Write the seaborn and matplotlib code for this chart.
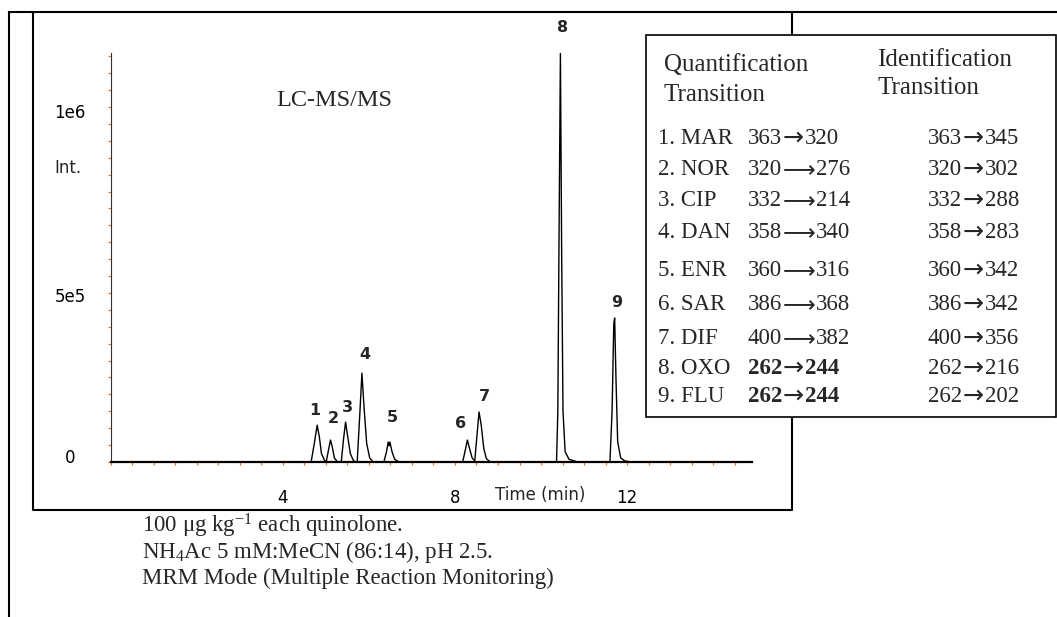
import numpy as np
import pandas as pd
import matplotlib
matplotlib.use("Agg")
import matplotlib.pyplot as plt
import seaborn as sns
from matplotlib.lines import Line2D
from matplotlib.patches import Rectangle
from matplotlib.ticker import MultipleLocator, FixedLocator
from matplotlib.transforms import ScaledTranslation

# ---------------- data ----------------
time_min = [0.00, 4.66, 4.74, 4.80, 4.85, 4.90, 4.97, 5.01,
            5.07, 5.11, 5.15, 5.20, 5.26, 5.31,
            5.36, 5.41, 5.46, 5.51, 5.57, 5.64, 5.69,
            5.73, 5.79, 5.84, 5.89, 5.95, 6.02, 6.10,
            6.35, 6.41, 6.45, 6.47, 6.49, 6.54, 6.60, 6.70,
            8.18, 8.24, 8.29, 8.34, 8.40, 8.46,
            8.52, 8.56, 8.61, 8.67, 8.73, 8.82,
            10.36, 10.39, 10.42, 10.45, 10.48, 10.51, 10.56, 10.65, 10.85,
            11.60, 11.65, 11.69, 11.71, 11.74, 11.78, 11.85, 11.95, 12.10,
            14.90]
intensity = [0, 0, 6.0e4, 1.09e5, 7.5e4, 2.5e4, 5e3, 0,
             4.0e4, 6.5e4, 4.5e4, 1.2e4, 2e3, 0,
             0, 6.5e4, 1.18e5, 7.5e4, 2.5e4, 5e3, 0,
             0, 1.4e5, 2.63e5, 1.6e5, 5.5e4, 1.2e4, 0,
             0, 3.0e4, 5.9e4, 4.8e4, 5.9e4, 3.0e4, 8e3, 0,
             0, 3.5e4, 6.5e4, 4.0e4, 1.2e4, 3e3,
             9.0e4, 1.48e5, 1.1e5, 4.0e4, 1.0e4, 0,
             0, 1.5e5, 7.0e5, 1.21e6, 6.0e5, 1.5e5, 3.0e4, 8e3, 0,
             0, 1.5e5, 4.1e5, 4.26e5, 2.5e5, 6e4, 1.2e4, 3e3, 0,
             0]

peak_labels = ["1", "2", "3", "4", "5", "6", "7", "8", "9"]
peak_rt = [4.80, 5.11, 5.46, 5.84, 6.47, 8.29, 8.56, 10.45, 11.71]
peak_height = [1.09e5, 6.5e4, 1.18e5, 2.63e5, 5.9e4, 6.5e4, 1.48e5, 1.21e6, 4.26e5]

y_tick_values = [0, 5e5, 1e6]
y_tick_labels = ["0", "5e5", "1e6"]
x_tick_values = [4, 8, 12]
x_tick_labels = ["4", "8", "12"]

analytes = ["1. MAR", "2. NOR", "3. CIP", "4. DAN", "5. ENR",
            "6. SAR", "7. DIF", "8. OXO", "9. FLU"]
quant_transition = ["363\u2192320", "320\u27f6276", "332\u27f6214", "358\u27f6340",
                    "360\u27f6316", "386\u27f6368", "400\u27f6382",
                    "262\u2192244", "262\u2192244"]
quant_bold = [False, False, False, False, False, False, False, True, True]
ident_transition = ["363\u2192345", "320\u2192302", "332\u2192288", "358\u2192283",
                    "360\u2192342", "386\u2192342", "400\u2192356",
                    "262\u2192216", "262\u2192202"]

notes = ["100 \u03bcg kg$^{-1}$ each quinolone.",
         "NH$_{4}$Ac 5 mM:MeCN (86:14), pH 2.5.",
         "MRM Mode (Multiple Reaction Monitoring)"]

# ---------------- figure ----------------
sns.set_theme(style="white")
plt.rcParams["font.family"] = ["DejaVu Sans"]
plt.rcParams["mathtext.default"] = "regular"

W, H = 1057, 617
fig = plt.figure(figsize=(W / 100, H / 100), dpi=100)
fig.patch.set_facecolor("white")


def fx(px):
    return px / W


def fy(py):
    return 1 - py / H


SERIF = ["Liberation Serif", "DejaVu Sans"]
ORANGE = "#f07020"

# frames
frame_kw = dict(color="black", lw=1.5, transform=fig.transFigure, solid_capstyle="projecting")
fig.add_artist(Line2D([fx(9), fx(9)], [fy(12), fy(617)], **frame_kw))
fig.add_artist(Line2D([fx(9), fx(1057)], [fy(12), fy(12)], **frame_kw))
fig.add_artist(Line2D([fx(33), fx(33), fx(792), fx(792)],
                      [fy(12), fy(510), fy(510), fy(12)], **frame_kw))

# main chromatogram axes
ax = fig.add_axes([fx(110.5), fy(462), fx(752) - fx(110.5), fy(53) - fy(462)])
ax.set_facecolor("none")
df = pd.DataFrame({"Time (min)": time_min, "Int.": intensity})
sns.lineplot(data=df, x="Time (min)", y="Int.", color="black", lw=1.0, ax=ax)
ax.set_xlim(0, 14.9)
ax.set_ylim(0, 1.21e6)

for s in ["top", "right"]:
    ax.spines[s].set_visible(False)
ax.spines["left"].set_linewidth(0.8)
ax.spines["left"].set_color("#333333")
ax.spines["bottom"].set_linewidth(1.6)
ax.spines["bottom"].set_color("black")

ax.yaxis.set_major_locator(FixedLocator(y_tick_values))
ax.set_yticklabels(y_tick_labels)
ax.yaxis.set_minor_locator(MultipleLocator(5e4))
ax.xaxis.set_major_locator(FixedLocator(x_tick_values))
ax.set_xticklabels(x_tick_labels)
ax.xaxis.set_minor_locator(MultipleLocator(0.5))

ax.tick_params(axis="y", which="both", direction="out", length=2.2, width=0.9,
               color=ORANGE, left=True)
ax.tick_params(axis="y", which="major", pad=27, labelsize=12, labelcolor="black")
ax.tick_params(axis="x", which="both", direction="out", length=2.4, width=0.9,
               color=ORANGE, bottom=True)
ax.tick_params(axis="x", which="major", pad=17, labelsize=12, labelcolor="black")
ax.set_xlabel("Time (min)", fontsize=12)
ax.xaxis.set_label_coords((540 - 110.5) / (752 - 110.5), (462 - 495) / (462 - 53))
ax.xaxis.label.set_verticalalignment("center")
ax.set_ylabel("Int.", fontsize=12, rotation=0)
ax.yaxis.set_label_coords((67.5 - 110.5) / (752 - 110.5), (462 - 168) / (462 - 53))
ax.yaxis.label.set_verticalalignment("center")
ax.yaxis.label.set_horizontalalignment("center")
ax.grid(False)

# the printed labels sit slightly off their ticks in the original
label_shift_px = {"0": 6, "5e5": -2, "1e6": 13}
for lab in ax.get_yticklabels():
    lab.set_horizontalalignment("center")
    dy = label_shift_px.get(lab.get_text(), 0)
    lab.set_transform(lab.get_transform() + ScaledTranslation(0, dy / 100, fig.dpi_scale_trans))

label_offsets = [(-2, 15), (3, 22), (2, 15), (3, 19), (3, 25), (-7, 17), (5, 15), (2, 25), (2, 16)]
for lab, rt, h, off in zip(peak_labels, peak_rt, peak_height, label_offsets):
    ax.annotate(lab, xy=(rt, h), xytext=(off[0], off[1]), textcoords="offset pixels",
                ha="center", va="center", fontsize=11.5, fontweight="bold",
                annotation_clip=False)

fig.text(fx(334), fy(100), "LC-MS/MS", family=SERIF, fontsize=17.5,
         ha="center", va="center")

# transitions table
fig.add_artist(Rectangle((fx(646), fy(417)), fx(1056) - fx(646), fy(35) - fy(417),
                         transform=fig.transFigure, facecolor="white",
                         edgecolor="black", lw=1.2, zorder=3))
hdr_kw = dict(family=SERIF, fontsize=18, ha="left", va="center", zorder=4)
fig.text(fx(664), fy(65), "Quantification", **hdr_kw)
fig.text(fx(664), fy(95), "Transition", **hdr_kw)
fig.text(fx(877), fy(60), "Identification", **hdr_kw)
fig.text(fx(877), fy(88), "Transition", **hdr_kw)

ROW_FS = 16.5
renderer = fig.canvas.get_renderer()


def place_pieces(x_px, base, pieces):
    """Write text pieces one after another on a common baseline."""
    x = fx(x_px)
    for txt, kw, gap_px in pieces:
        x += gap_px / W
        t = fig.text(x, base, txt, ha="left", va="baseline", zorder=4, **kw)
        bb = t.get_window_extent(renderer)
        x = bb.x1 / fig.bbox.width


def transition_pieces(s, bold):
    arrow = "\u27f6" if "\u27f6" in s else "\u2192"
    a, b = s.split(arrow)
    num_kw = dict(family=SERIF, fontsize=ROW_FS, fontweight="bold" if bold else "normal")
    if arrow == "\u27f6":
        arr = (r"$\longrightarrow$", dict(math_fontfamily="stix", fontsize=ROW_FS), -3)
    else:
        arr = (r"$\rightarrow$", dict(math_fontfamily="stix", fontsize=ROW_FS * 1.1), -3)
    return [(a, num_kw, 0), arr, (b, num_kw, 0)]


row_y = [138, 169, 200, 232, 270, 304, 338, 368, 396]
for name, q, qb, ident, yy in zip(analytes, quant_transition, quant_bold,
                                  ident_transition, row_y):
    base = fy(yy + 6)
    fig.text(fx(658), base, name, family=SERIF, fontsize=ROW_FS, ha="left",
             va="baseline", zorder=4)
    place_pieces(748, base, transition_pieces(q, qb))
    place_pieces(928, base, transition_pieces(ident, False))

# notes under the chart
note_y = [526, 552, 578]
for txt, yy in zip(notes, note_y):
    fig.text(fx(142), fy(yy), txt, family=SERIF, fontsize=16.5, ha="left", va="center")

fig.savefig("out.png", dpi=100, facecolor="white")
